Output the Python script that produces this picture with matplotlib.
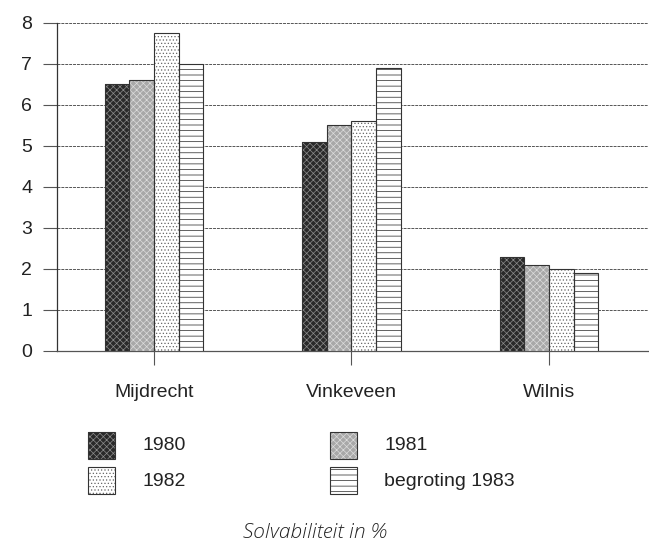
import numpy as np
import matplotlib.pyplot as plt
from matplotlib.patches import Rectangle

# Data
gemeenten = ['Mijdrecht', 'Vinkeveen', 'Wilnis']
jaren = ['1980', '1981', '1982', 'begroting 1983']
w1980 = [6.5, 5.1, 2.3]
w1981 = [6.6, 5.5, 2.1]
w1982 = [7.75, 5.6, 2.0]
w1983 = [7.0, 6.9, 1.9]
yticks = [0, 1, 2, 3, 4, 5, 6, 7, 8]

plt.rcParams['font.family'] = ['Liberation Sans', 'DejaVu Sans']
plt.rcParams['hatch.linewidth'] = 0.5

fig = plt.figure(figsize=(6.49, 5.56), dpi=100)
ax = fig.add_axes([0.088, 0.369, 0.91, 0.59])

x = np.arange(len(gemeenten))
width = 0.125
series = [w1980, w1981, w1982, w1983]
# fill colour, hatch, hatch colour per year
styles = [('#2a2a2a', 'xxxxx', '#8c8c8c'),
          ('#a8a8a8', 'xxxxx', '#dcdcdc'),
          ('white', '.....', '#666666'),
          ('white', '---', '#222222')]

for i, vals in enumerate(series):
    fc, hatch, hc = styles[i]
    ax.bar(x + (i - 1.5) * width, vals, width, color=fc, hatch=hatch,
           edgecolor=hc, linewidth=0, zorder=3)
    ax.bar(x + (i - 1.5) * width, vals, width, fill=False,
           edgecolor='#333333', linewidth=0.8, zorder=4)

ax.set_xlim(-0.49, 2.5)
ax.set_ylim(0, 8)
ax.set_yticks(yticks)
ax.set_xticks(x)
ax.set_xticklabels(gemeenten, fontsize=14, color='#222222')
ax.tick_params(axis='y', direction='out', length=10, width=0.8, color='#555555',
               labelsize=14, pad=8, labelcolor='#222222')
ax.tick_params(axis='x', direction='out', length=10, width=0.8, color='#555555',
               pad=14)
ax.yaxis.grid(True, linestyle=(0, (3, 1)), color='#555555', linewidth=0.7, zorder=0)
ax.set_axisbelow(True)

ax.spines['top'].set_visible(False)
ax.spines['right'].set_visible(False)
ax.spines['left'].set_color('#333333')
ax.spines['bottom'].set_color('#555555')
ax.spines['left'].set_linewidth(0.9)
ax.spines['bottom'].set_linewidth(0.9)

# Legend drawn by hand in figure coords (two columns)
W, H = 649, 556
pos = [(88, 432), (330, 432), (88, 467), (330, 467)]
for k, (px, py) in enumerate(pos):
    fc, hatch, hc = styles[k]
    r = Rectangle((px / W, 1 - (py + 27) / H), 27 / W, 27 / H, transform=fig.transFigure,
                  facecolor=fc, hatch=hatch, edgecolor=hc, linewidth=0)
    fig.add_artist(r)
    r2 = Rectangle((px / W, 1 - (py + 27) / H), 27 / W, 27 / H, transform=fig.transFigure,
                   fill=False, edgecolor='#333333', linewidth=0.8)
    fig.add_artist(r2)
    fig.text((px + 54) / W, 1 - (py + 14) / H, jaren[k], fontsize=14, va='center',
             color='#222222')

fig.text(315 / W, 1 - 533 / H, 'Solvabiliteit in %', fontsize=15, style='italic',
         fontweight='light', ha='center', va='center',
         family=['Open Sans', 'DejaVu Sans'], color='#222222')

plt.savefig('out.png', dpi=100)
